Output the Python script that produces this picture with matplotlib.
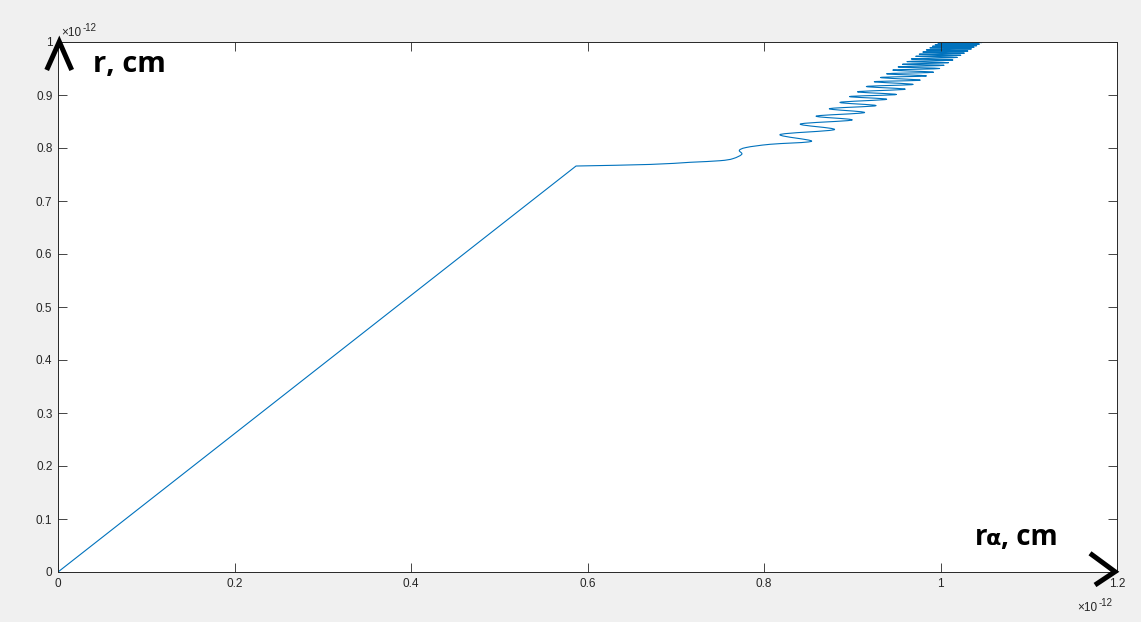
import matplotlib
matplotlib.use("Agg")
import matplotlib.pyplot as plt
from matplotlib.lines import Line2D
from matplotlib.path import Path
from matplotlib.patches import PathPatch
import numpy as np

# ---- data (units of 1e-12 cm) ----
# straight part up to the kink, then gently rising part with an S-wiggle
base_x = [0.000, 0.587, 0.671, 0.716, 0.750, 0.765, 0.775, 0.772, 0.780, 0.807]
base_y = [0.000, 0.766, 0.769, 0.773, 0.776, 0.780, 0.789, 0.795, 0.801, 0.807]

# turning points of the oscillating part (right / left extremes)
right_x = [0.854, 0.880, 0.900, 0.914, 0.927, 0.939, 0.950, 0.960, 0.969, 0.977,
           0.984, 0.992, 0.999, 1.004, 1.009, 1.014, 1.019, 1.023, 1.027, 1.031,
           1.035, 1.038, 1.041, 1.044, 1.047, 1.050]
right_y = [0.813, 0.835, 0.853, 0.867, 0.880, 0.892, 0.901, 0.911, 0.920, 0.928,
           0.936, 0.943, 0.950, 0.956, 0.961, 0.966, 0.971, 0.975, 0.979, 0.983,
           0.987, 0.990, 0.993, 0.996, 0.999, 1.002]
left_x = [0.818, 0.841, 0.859, 0.874, 0.886, 0.897, 0.906, 0.916, 0.925, 0.932,
          0.939, 0.946, 0.952, 0.957, 0.962, 0.967, 0.972, 0.976, 0.980, 0.984,
          0.988, 0.991, 0.994, 0.997, 1.000]
left_y = [0.825, 0.845, 0.860, 0.874, 0.886, 0.897, 0.906, 0.916, 0.925, 0.933,
          0.940, 0.947, 0.953, 0.958, 0.963, 0.968, 0.973, 0.977, 0.981, 0.985,
          0.989, 0.992, 0.995, 0.998, 1.001]

x_ticks = [0, 0.2, 0.4, 0.6, 0.8, 1.0, 1.2]
x_tick_labels = ["0", "0.2", "0.4", "0.6", "0.8", "1", "1.2"]
y_ticks = [0, 0.1, 0.2, 0.3, 0.4, 0.5, 0.6, 0.7, 0.8, 0.9, 1.0]
y_tick_labels = ["0", "0.1", "0.2", "0.3", "0.4", "0.5", "0.6", "0.7", "0.8", "0.9", "1"]

# assemble point sequence: base, then alternate right/left turning points
xs = list(base_x)
ys = list(base_y)
for i in range(len(right_x)):
    xs.append(right_x[i]); ys.append(right_y[i])
    if i < len(left_x):
        xs.append(left_x[i]); ys.append(left_y[i])
P = np.column_stack([xs, ys])
n = len(P)
KINK = 1

# tangents for a smooth curve through the points after the kink
T = np.zeros_like(P)
for i in range(KINK, n):
    if i == KINK:
        T[i] = P[i + 1] - P[i]
    elif i == n - 1:
        T[i] = P[i] - P[i - 1]
    else:
        dxa = P[i, 0] - P[i - 1, 0]
        dxb = P[i + 1, 0] - P[i, 0]
        if dxa * dxb < 0:  # horizontal turning point -> vertical tangent
            T[i] = [0.0, (P[i + 1, 1] - P[i - 1, 1]) / 2]
        else:
            T[i] = (P[i + 1] - P[i - 1]) / 2

verts = [tuple(P[0]), tuple(P[KINK])]
codes = [Path.MOVETO, Path.LINETO]
for i in range(KINK, n - 1):
    verts += [tuple(P[i] + T[i] / 3), tuple(P[i + 1] - T[i + 1] / 3), tuple(P[i + 1])]
    codes += [Path.CURVE4] * 3

plt.rcParams['font.family'] = ['Liberation Sans', 'DejaVu Sans']
W, H = 1141, 622
fig = plt.figure(figsize=(W / 100, H / 100), dpi=100, facecolor='#f0f0f0')
ax = fig.add_axes([58 / W, 1 - 572 / H, (1117 - 58) / W, (572 - 42) / H])
ax.set_facecolor('white')
ax.add_patch(PathPatch(Path(verts, codes), facecolor='none', edgecolor='#0072BD',
                       lw=0.8, joinstyle='round'))
ax.set_xlim(0, 1.2)
ax.set_ylim(0, 1.0)
ax.set_xticks(x_ticks)
ax.set_xticklabels(x_tick_labels)
ax.set_yticks(y_ticks)
ax.set_yticklabels(y_tick_labels)
ax.tick_params(direction='in', length=6.5, width=0.6, colors='#262626',
               labelsize=8.5, top=True, right=True, pad=4)
for s in ax.spines.values():
    s.set_color('#262626')
    s.set_linewidth(0.7)

# exponent labels (×10 with raised -12)
def exponent_label(px, py):
    fig.text(px / W, 1 - py / H, '\u00d710', fontsize=8.5, color='#262626',
             ha='left', va='baseline')
    fig.text((px + 22) / W, 1 - (py - 5) / H, '-12', fontsize=7, color='#262626',
             ha='left', va='baseline')

exponent_label(61, 36)
exponent_label(1077, 611)

# axis annotations
fam = ['Open Sans', 'DejaVu Sans']
fig.text(93 / W, 1 - 72 / H, 'r, cm', fontsize=21, fontweight='bold',
         family=fam, color='black', ha='left', va='baseline')
fig.text(975 / W, 1 - 545 / H, 'r', fontsize=20, fontweight='bold',
         family=fam, color='black', ha='left', va='baseline')
fig.text(986 / W, 1 - 545 / H, '\u03b1', fontsize=16, fontweight='bold',
         family=['DejaVu Sans'], color='black', ha='left', va='baseline')
fig.text(1001 / W, 1 - 545 / H, ', cm', fontsize=20, fontweight='bold',
         family=fam, color='black', ha='left', va='baseline')

def figline(px, py):
    fig.add_artist(Line2D([p / W for p in px], [1 - q / H for q in py],
                          color='black', lw=3.6, solid_capstyle='butt',
                          solid_joinstyle='miter', transform=fig.transFigure))

figline([46.7, 59.3, 71.7], [70, 41.7, 70])
figline([1090, 1115, 1095], [553.3, 571.7, 585])

fig.savefig('out.png', dpi=100, facecolor=fig.get_facecolor())
